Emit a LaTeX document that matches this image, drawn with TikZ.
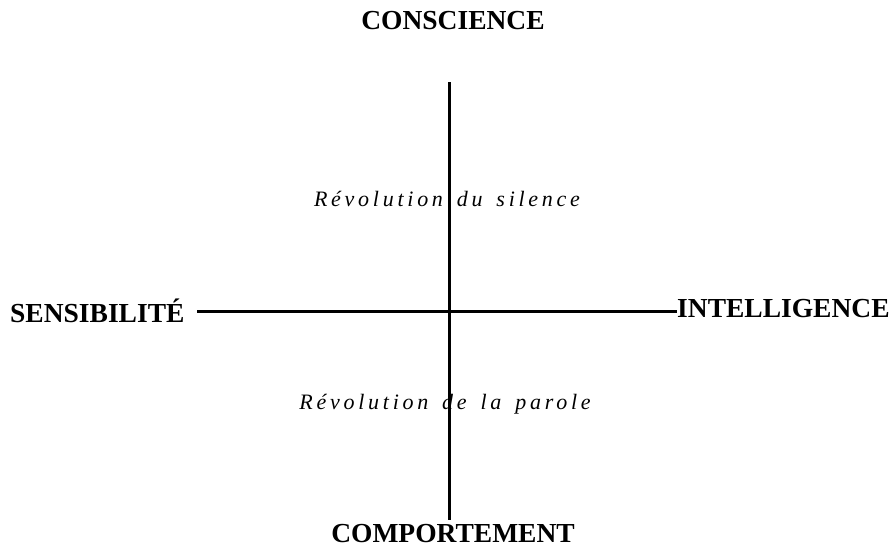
\documentclass[tikz,border=0pt]{standalone}
\usepackage{fontspec}
\setmainfont{Liberation Serif}
\newfontfamily\spaced[LetterSpace=17,WordSpace=1.5]{Liberation Serif}
\tikzset{
  pole/.style={font=\fontsize{27.5}{32}\selectfont\bfseries, inner sep=0pt},
  zone/.style={font=\fontsize{22}{26}\selectfont\spaced\itshape, inner sep=0pt},
  axis/.style={line width=3pt}
}
\begin{document}
\begin{tikzpicture}[x=1pt,y=-1pt]
    \useasboundingbox (0,0) rectangle (892,550);
    % les quatre poles
    \node[pole] (consc) at (453,21) {CONSCIENCE};
    \node[pole] (compo) at (453,534) {COMPORTEMENT};
    \node[pole, anchor=west] (sensi) at (10,311) {SENSIBILITÉ};
    \node[pole, anchor=west] (intel) at (677,309) {INTELLIGENCE};
    % les axes
    \coordinate (top) at (449,82);
    \coordinate (bot) at (449,520);
    \coordinate (left) at (197,311);
    \draw[axis] (top) -- (bot);
    \draw[axis] (left) -- (intel.west |- left);
    % les deux revolutions
    \node[zone] (silence) at (447,199) {Révolution du silence};
    \node[zone] (parole) at (445,404) {Révolution de la parole};
\end{tikzpicture}
\end{document}
